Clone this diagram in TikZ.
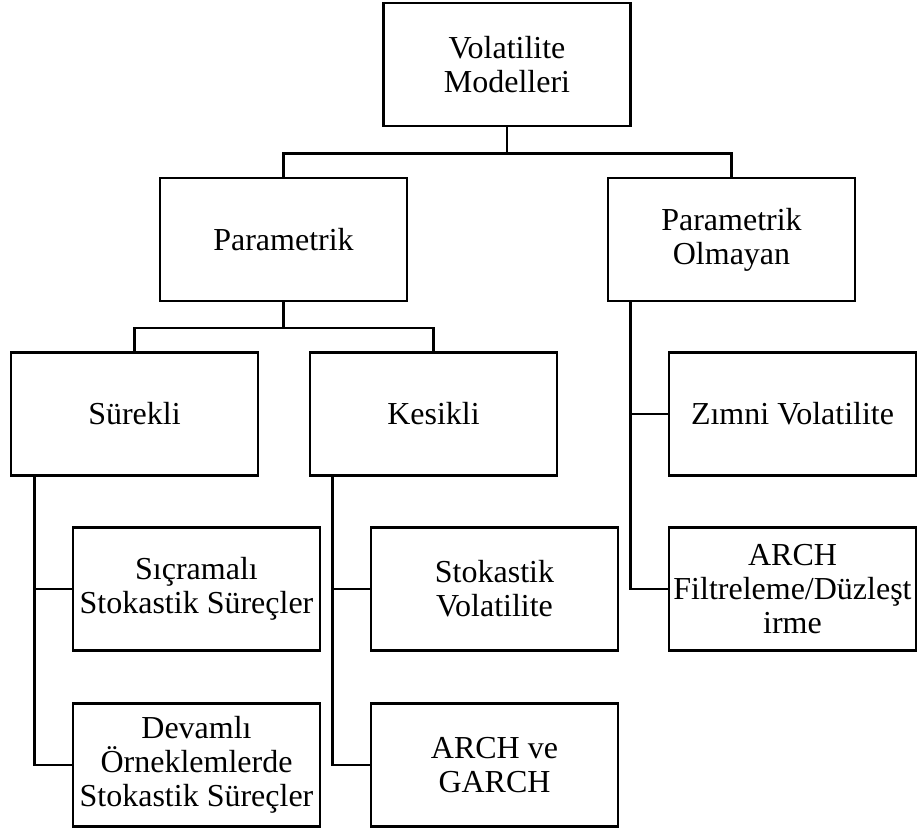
\documentclass[tikz,border=0pt]{standalone}
\usepackage{fontspec}
\setmainfont{Liberation Serif}
\usepackage{tikz}
\usetikzlibrary{positioning}

\begin{document}
\begin{tikzpicture}[x=1pt, y=-1pt, line width=2.6pt,
  block/.style={rectangle, draw, minimum width=247pt, minimum height=123pt, inner sep=2pt, align=center, font=\fontsize{32}{34}\selectfont}]
\useasboundingbox (0,0) rectangle (917,831);
\node[block] (root) at (507,64.5) {Volatilite \\ Modelleri};
\node[block] (param) at (283.5,239.5) {Parametrik};
\node[block, right=198.4pt of param] (nonparam) {Parametrik \\ Olmayan};
\node[block] (surekli) at (134.5,414) {Sürekli};
\node[block, right=49.4pt of surekli] (kesikli) {Kesikli};
\node[block, right=109.4pt of kesikli] (zimni) {Zımni Volatilite};
\node[block] (sicrama) at (196.5,589) {Sıçramalı \\ Stokastik Süreçler};
\node[block, right=48.4pt of sicrama] (stokvol) {Stokastik \\ Volatilite};
\node[block, right=48.4pt of stokvol] (archf) {ARCH \\ Filtreleme/Düzleşt \\ irme};
\node[block, below=50.4pt of sicrama] (devamli) {Devamlı \\ Örneklemlerde \\ Stokastik Süreçler};
\node[block, below=50.4pt of stokvol] (archg) {ARCH ve \\ GARCH};
% tree connectors
\draw (root.south) -- ++(0,26) -| (param.north); \draw (root.south) -- ++(0,26) -| (nonparam.north);
\draw (param.south) -- ++(0,25.5) -| (surekli.north); \draw (param.south) -- ++(0,25.5) -| (kesikli.north);
\draw ([xshift=25pt]surekli.south west) |- (sicrama.west); \draw ([xshift=25pt]surekli.south west) |- (devamli.west);
\draw ([xshift=24pt]kesikli.south west) |- (stokvol.west); \draw ([xshift=24pt]kesikli.south west) |- (archg.west);
\draw ([xshift=24pt]nonparam.south west) |- (zimni.west); \draw ([xshift=24pt]nonparam.south west) |- (archf.west);
\end{tikzpicture}
\end{document}
